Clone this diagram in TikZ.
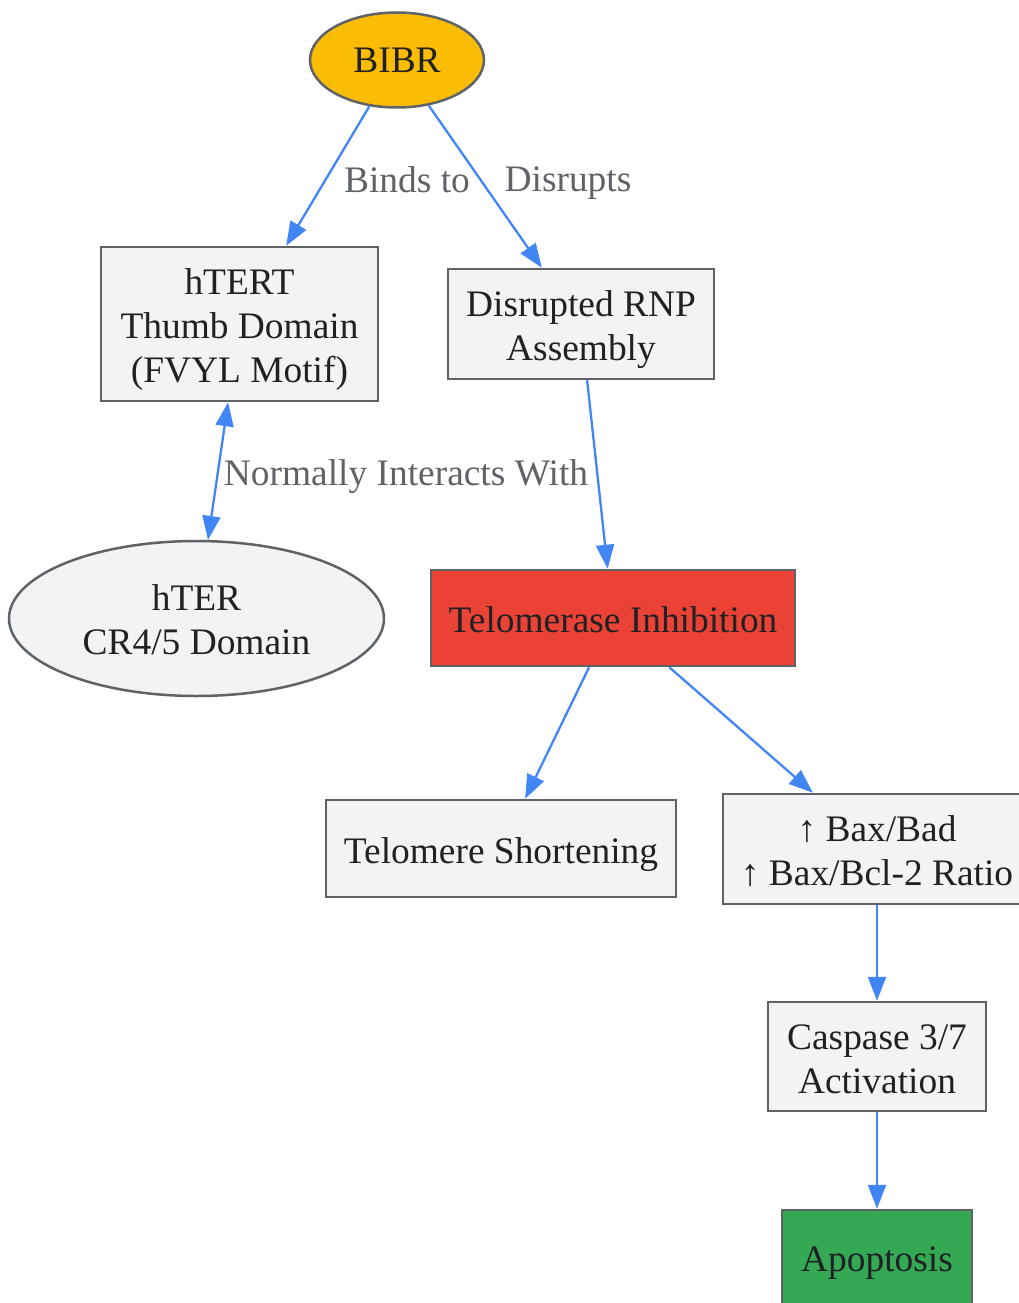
\documentclass[tikz,border=0pt]{standalone}
\usepackage{fontspec}
\setmainfont{Liberation Serif}
\usetikzlibrary{arrows.meta,shapes.geometric}
\definecolor{nodefill}{HTML}{F1F3F4}
\definecolor{nodeline}{HTML}{5F6368}
\definecolor{txt}{HTML}{202124}
\definecolor{edgeblue}{HTML}{4285F4}
\definecolor{yellowfill}{HTML}{FBBC05}
\definecolor{redfill}{HTML}{EA4335}
\definecolor{greenfill}{HTML}{34A853}
\newcommand{\topstrut}[1]{\rule{0pt}{#1pt}}
\tikzset{
  base/.style={draw=nodeline, line width=2.5pt, fill=nodefill, text=txt, inner sep=0pt,
    align=center, font=\fontsize{37.4}{44}\selectfont},
  box/.style={base, rectangle},
  oval/.style={base, ellipse},
  edge/.style={draw=edgeblue, line width=2.3pt, -{Triangle[length=24pt,width=18pt]}},
  biedge/.style={draw=edgeblue, line width=2.3pt, {Triangle[length=24pt,width=18pt]}-{Triangle[length=24pt,width=18pt]}},
  lbl/.style={text=nodeline, inner sep=0pt, font=\fontsize{37.4}{44}\selectfont}
}
\begin{document}
\begin{tikzpicture}[x=1pt,y=-1pt]
\useasboundingbox (0,0) rectangle (1019,1303);
\node[oval, fill=yellowfill, minimum width=174pt, minimum height=95pt] (bibr) at (397,60) {BIBR};
\node[box, minimum width=277pt, minimum height=154pt] (htert) at (239.5,324) {\topstrut{36}hTERT\\Thumb Domain\\(FVYL Motif)};
\node[box, minimum width=266pt, minimum height=110pt] (rnp) at (581,324) {\topstrut{38}Disrupted RNP\\Assembly};
\node[oval, minimum width=375pt, minimum height=155pt] (hter) at (196.5,618.5) {\topstrut{28}hTER\\CR4/5 Domain};
\node[box, fill=redfill, minimum width=364pt, minimum height=96pt] (inhib) at (613,618) {\topstrut{29}Telomerase Inhibition};
\node[box, minimum width=350pt, minimum height=97pt] (short) at (501,848.5) {\topstrut{39}Telomere Shortening};
\node[box, minimum width=308pt, minimum height=110pt] (bax) at (877,849) {\topstrut{30}↑ Bax/Bad\\↑ Bax/Bcl-2 Ratio};
\node[box, minimum width=218pt, minimum height=109pt] (casp) at (877,1056.5) {\topstrut{30}Caspase 3/7\\Activation};
\node[box, fill=greenfill, minimum width=190pt, minimum height=96pt] (apop) at (877,1258) {\topstrut{35}Apoptosis};

\draw[edge] (bibr) -- (htert);
\draw[edge] (bibr) -- (rnp);
\draw[biedge] (htert) -- (hter);
\draw[edge] (rnp) -- (inhib);
\draw[edge] (inhib) -- (short);
\draw[edge] (inhib) -- (bax);
\draw[edge] (bax) -- (casp);
\draw[edge] (casp) -- (apop);

\node[lbl] (lbinds) at (407,180) {Binds to};
\node[lbl] (ldisrupts) at (568,183) {Disrupts};
\node[lbl] (lnormal) at (406,477) {Normally Interacts With};
\end{tikzpicture}
\end{document}
